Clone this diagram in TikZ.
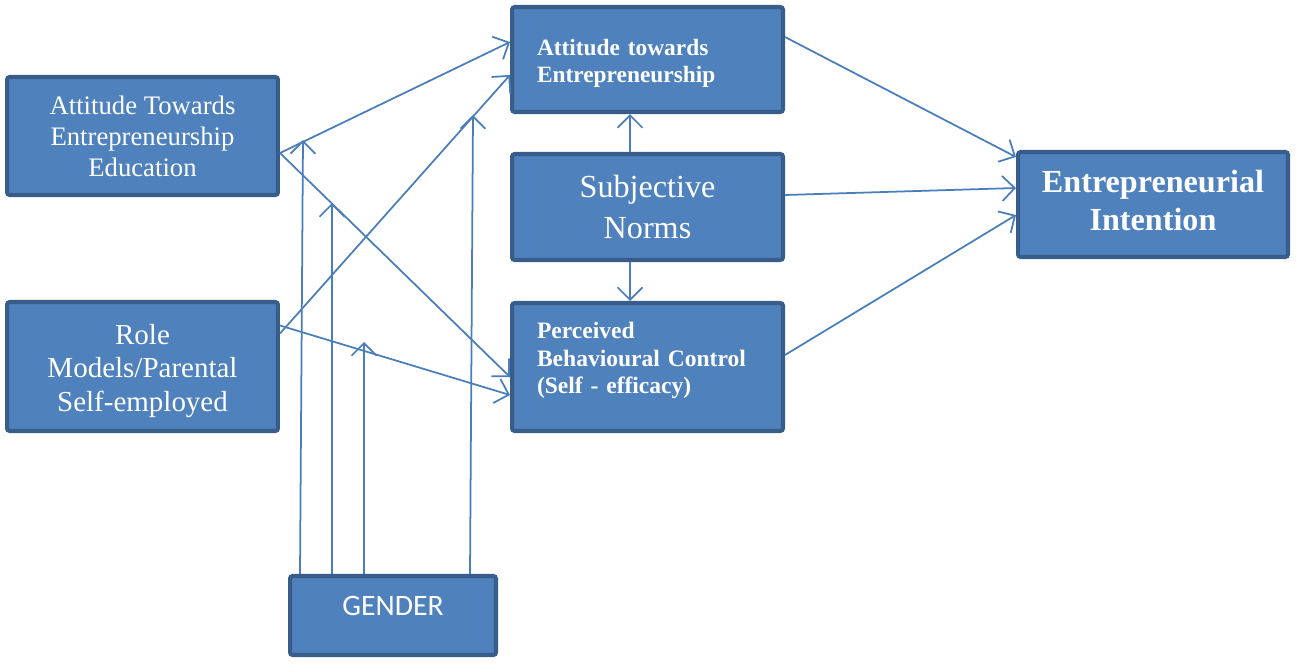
\documentclass[tikz,border=0pt]{standalone}
\usepackage{fontspec}
\setmainfont{Liberation Serif}
\newfontfamily\gendfont{Carlito}
\usetikzlibrary{arrows.meta,calc}
\definecolor{boxfill}{HTML}{4F81BD}
\definecolor{boxline}{HTML}{385D8A}
\definecolor{arrline}{HTML}{4A7EBB}

\begin{document}
\begin{tikzpicture}[x=0.02cm,y=-0.02cm,
  box/.style={draw=boxline,fill=boxfill,line width=2.3pt,rounded corners=1.5pt,
    text=white,align=center,inner sep=2pt,minimum width=5.42cm},
  lbox/.style={box,align=left,text width=4.42cm,inner xsep=0.5cm},
  arr/.style={draw=arrline,line width=1pt,-{Straight Barb[length=2.5mm,width=5mm]}}]

\useasboundingbox (0,0) rectangle (1298,666);

\node (atee) at (142.5,136) [box,minimum height=2.36cm,font=\fontsize{15.2}{17.6}\selectfont]
  {Attitude Towards\\Entrepreneurship\\Education};
\node (role) at (142.5,366.5) [box,minimum height=2.58cm,font=\fontsize{16.5}{19}\selectfont]
  {\rule{0pt}{16.5pt}Role\\Models/Parental\\Self-employed};
\node (ate) at (647.5,59.5) [lbox,minimum height=2.1cm,font=\bfseries\fontsize{13.3}{15.3}\selectfont]
  {\rule{0pt}{13.5pt}Attitude towards\\Entrepreneurship};
\node (sn) at (647.5,207) [box,minimum height=2.12cm,font=\fontsize{18.3}{23.8}\selectfont]
  {Subjective\\Norms};
\node (pbc) at (647.5,367) [lbox,minimum height=2.56cm,font=\bfseries\fontsize{13.4}{15.6}\selectfont]
  {Perceived\\Behavioural Control\\(Self - efficacy)\rule[-10.2pt]{0pt}{0pt}};
\node (ei) at (1153,204.5) [box,minimum width=5.4cm,minimum height=2.1cm,font=\bfseries\fontsize{18.3}{21.5}\selectfont]
  {Entrepreneurial\\Intention\rule[-4.5pt]{0pt}{0pt}};
\node (gen) at (393,615.5) [box,minimum width=4.12cm,minimum height=1.58cm,font=\gendfont\fontsize{16.9}{18}\selectfont]
  {GENDER\rule[-10.8pt]{0pt}{0pt}};

% free ends of the gender arrows
\coordinate (g1) at (303,140);
\coordinate (g2) at (332,203);
\coordinate (g3) at (364,342);
\coordinate (g4) at (473,115);

\draw [arr] ($(atee.east)+(0,17)$) -- ($(ate.west)+(0,-17.5)$);
\draw [arr] ($(atee.east)+(0,17)$) -- ($(pbc.west)+(0,10)$);
\draw [arr] ($(role.east)+(0,-33)$) -- ($(ate.west)+(0,15.5)$);
\draw [arr] ($(role.east)+(0,-41)$) -- ($(pbc.west)+(0,28)$);

\draw [arr] ($(sn.north)+(-17.5,0)$) -- ($(ate.south)+(-17.5,0)$);
\draw [arr] ($(sn.south)+(-17.5,0)$) -- ($(pbc.north)+(-17.5,0)$);

\draw [arr] ($(ate.east)+(0,-22.5)$) -- ($(ei.west)+(0,-47.5)$);
\draw [arr] ($(sn.east)+(0,-12)$) -- ($(ei.west)+(0,-16.5)$);
\draw [arr] ($(pbc.east)+(0,-12)$) -- ($(ei.west)+(0,10.5)$);

\draw [arr] ($(gen.north)+(-93,0)$) -- (g1);
\draw [arr] ($(gen.north)+(-61,0)$) -- (g2);
\draw [arr] ($(gen.north)+(-29,0)$) -- (g3);
\draw [arr] ($(gen.north)+(77,0)$) -- (g4);

\end{tikzpicture}
\end{document}
